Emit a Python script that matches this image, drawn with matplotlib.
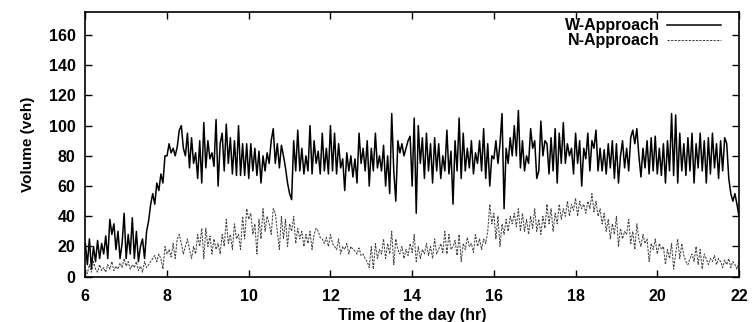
import numpy as np
import matplotlib
matplotlib.use("Agg")
import matplotlib.pyplot as plt

plt.rcParams['font.family'] = ['Liberation Sans', 'DejaVu Sans']
plt.rcParams['font.weight'] = 'bold'

# time step of 0.05 h (3 min) from 6:00 to 22:00
t_start, t_end, t_step = 6.0, 22.0, 0.05

w_approach = [
    # 6-7
    22, 8, 25, 5, 20, 10, 24, 12, 22, 15, 27, 12, 38, 28, 35, 18, 30, 12, 22, 42,
    # 7-8
    12, 28, 15, 39, 12, 30, 10, 20, 25, 12, 30, 37, 48, 55, 48, 62, 57, 68, 62, 80,
    # 8-9
    80, 88, 82, 85, 80, 86, 97, 100, 85, 80, 95, 72, 92, 75, 82, 65, 90, 62, 102, 72,
    # 9-10
    90, 78, 82, 73, 104, 60, 88, 95, 70, 101, 75, 92, 68, 90, 67, 100, 67, 88, 67, 88,
    # 10-11
    65, 88, 70, 85, 67, 83, 62, 80, 70, 82, 75, 90, 98, 75, 88, 72, 87, 80, 72, 62,
    # 11-12
    55, 51, 90, 70, 97, 70, 85, 68, 80, 70, 100, 68, 90, 75, 83, 68, 95, 70, 85, 68,
    # 12-13
    100, 70, 95, 68, 88, 72, 78, 57, 82, 70, 80, 66, 78, 62, 95, 75, 85, 70, 90, 60,
    # 13-14
    85, 70, 95, 72, 80, 70, 87, 60, 80, 55, 108, 70, 50, 90, 82, 88, 80, 85, 90, 93,
    # 14-15
    60, 105, 42, 100, 75, 92, 65, 95, 70, 88, 62, 92, 70, 88, 65, 80, 70, 97, 68, 83,
    # 15-16
    48, 90, 70, 105, 65, 95, 70, 85, 72, 90, 68, 82, 75, 90, 70, 98, 65, 88, 60, 80,
    # 16-17
    78, 90, 75, 88, 108, 45, 85, 75, 92, 80, 100, 80, 110, 72, 90, 70, 80, 75, 98, 85,
    # 17-18
    90, 65, 70, 103, 80, 90, 88, 68, 92, 70, 98, 62, 95, 75, 102, 75, 88, 80, 85, 68,
    # 18-19
    95, 75, 90, 60, 85, 78, 95, 70, 90, 85, 97, 70, 85, 70, 84, 68, 88, 72, 90, 65,
    # 19-20
    88, 62, 80, 90, 72, 85, 70, 92, 97, 88, 98, 80, 66, 85, 72, 90, 68, 92, 70, 93,
    # 20-21
    68, 85, 67, 88, 62, 90, 70, 108, 67, 107, 62, 95, 70, 88, 67, 92, 70, 95, 62, 88,
    # 21-22
    72, 95, 70, 90, 62, 92, 68, 95, 72, 88, 65, 90, 70, 92, 88, 65, 55, 50, 55, 48,
    # 22
    40,
]

n_approach = [
    # 6-7
    5, 2, 8, 3, 10, 5, 3, 8, 4, 6, 3, 8, 5, 10, 4, 7, 5, 9, 6, 12,
    # 7-8
    7, 10, 5, 8, 6, 10, 4, 7, 3, 10, 6, 8, 10, 12, 14, 10, 15, 12, 5, 20,
    # 8-9
    15, 18, 13, 22, 12, 25, 28, 22, 15, 20, 25, 18, 12, 20, 15, 28, 20, 32, 12, 32,
    # 9-10
    20, 27, 15, 25, 18, 22, 15, 28, 20, 38, 22, 28, 18, 35, 25, 28, 18, 40, 25, 45,
    # 10-11
    38, 42, 28, 35, 15, 38, 25, 45, 30, 40, 35, 28, 45, 42, 30, 18, 40, 25, 38, 20,
    # 11-12
    35, 30, 40, 22, 32, 25, 30, 20, 28, 22, 30, 18, 28, 32, 30, 26, 25, 22, 26, 20,
    # 12-13
    28, 22, 20, 18, 25, 15, 20, 18, 22, 15, 20, 18, 17, 15, 19, 14, 15, 12, 10, 6,
    # 13-14
    20, 5, 22, 12, 18, 15, 25, 12, 22, 15, 30, 8, 25, 18, 15, 20, 12, 18, 14, 22,
    # 14-15
    16, 28, 10, 20, 12, 18, 15, 22, 14, 20, 12, 25, 15, 18, 22, 16, 30, 15, 28, 18,
    # 15-16
    20, 24, 14, 28, 10, 22, 18, 26, 20, 22, 16, 28, 20, 25, 18, 25, 22, 30, 48, 35,
    # 16-17
    42, 25, 40, 20, 35, 28, 38, 30, 40, 35, 42, 33, 45, 30, 42, 30, 38, 28, 40, 32,
    # 17-18
    45, 30, 38, 28, 40, 32, 48, 35, 45, 30, 42, 35, 48, 38, 45, 40, 50, 40, 48, 44,
    # 18-19
    52, 40, 50, 45, 48, 42, 50, 45, 55, 43, 50, 40, 45, 35, 42, 30, 38, 25, 35, 28,
    # 19-20
    40, 20, 32, 25, 30, 28, 38, 22, 30, 18, 35, 25, 20, 28, 22, 25, 10, 22, 18, 25,
    # 20-21
    15, 22, 18, 20, 8, 18, 12, 22, 5, 15, 25, 12, 22, 14, 10, 8, 12, 15, 10, 20,
    # 21-22
    8, 18, 5, 15, 12, 8, 12, 10, 14, 8, 12, 10, 6, 11, 8, 12, 6, 10, 8, 5,
    # 22
    10,
]

x_ticks = [6, 8, 10, 12, 14, 16, 18, 20, 22]
y_ticks = [0, 20, 40, 60, 80, 100, 120, 140, 160]

times = t_start + t_step * np.arange(len(w_approach))

fig = plt.figure(figsize=(7.53, 3.22), dpi=100)
ax = fig.add_axes([0.1133, 0.1407, 0.8681, 0.8211])

ax.plot(times, w_approach, color='black', lw=1.1, label='W-Approach')
ax.plot(times, n_approach, color='#444444', lw=0.75, linestyle=(0, (2.2, 1.2)),
        label='N-Approach')

ax.set_xlim(6, 22)
ax.set_ylim(0, 175)
ax.set_xticks(x_ticks)
ax.set_yticks(y_ticks)
ax.set_xticklabels([str(v) for v in x_ticks], fontsize=11.5, fontweight='bold')
ax.set_yticklabels([str(v) for v in y_ticks], fontsize=11.5, fontweight='bold')
ax.tick_params(axis='x', direction='in', length=5, width=1, top=True, pad=9)
ax.tick_params(axis='y', direction='in', length=5, width=1, right=True, pad=7)
for s in ax.spines.values():
    s.set_linewidth(1.2)

ax.set_xlabel('Time of the day (hr)', fontsize=11.5, fontweight='bold', labelpad=3)
ax.set_ylabel('Volume (veh)', fontsize=11, fontweight='bold', labelpad=10)

leg = ax.legend(loc='upper right', bbox_to_anchor=(0.985, 1.008), frameon=False,
                markerfirst=False, handlelength=3.4, labelspacing=0.0,
                borderaxespad=0.1, handletextpad=0.45,
                prop={'weight': 'bold', 'size': 11.5})

fig.savefig('out.png', dpi=100)
